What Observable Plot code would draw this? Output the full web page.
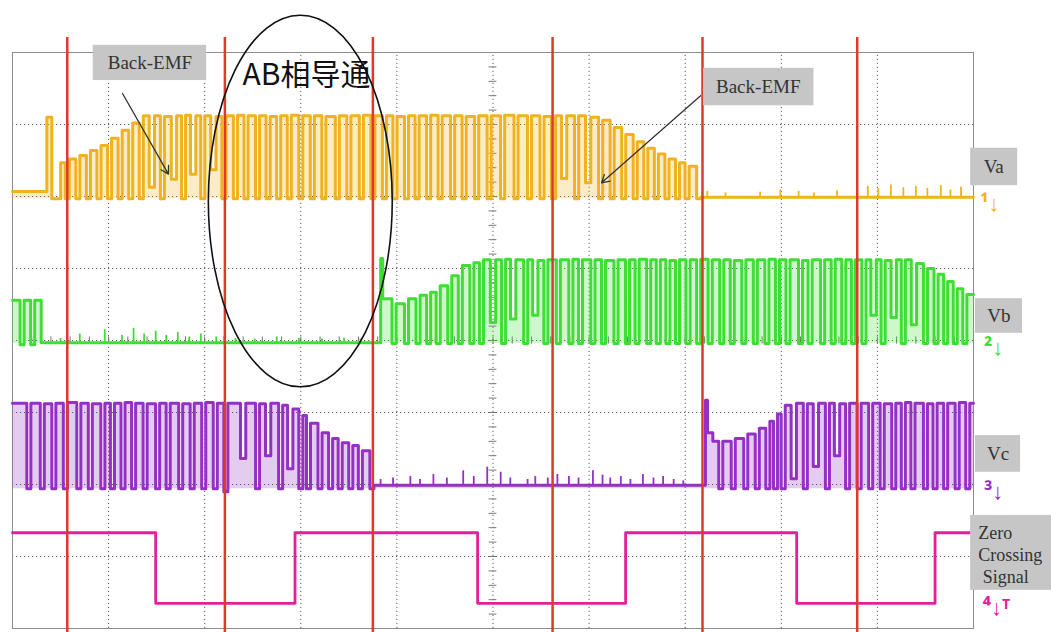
<!DOCTYPE html>
<html>
<head>
<meta charset="utf-8">
<script src="https://cdn.jsdelivr.net/npm/d3@7"></script>
<script src="https://cdn.jsdelivr.net/npm/@observablehq/plot@0.6"></script>
<style>
html,body{margin:0;padding:0;background:#fff;}
#chart svg{display:block;}
</style>
</head>
<body>
<div id="chart"></div>
<script>
// Time axis: 10 divisions (100 units each); voltage axis: 8 divisions.
const gridT = [100, 200, 300, 400, 500, 600, 700, 800, 900];
const gridV = [1, 2, 3, 4, 5, 6, 7];

// Commutation instants (red markers)
const commT = [57, 221, 375, 562, 718, 879];

// Zero crossing signal (step levels)
const zcsT = [0, 149, 294, 484, 638, 816, 960, 1000];
const zcsV = [1.33, 0.35, 1.33, 0.35, 1.33, 0.35, 1.33, 1.33];

// Phase A: PWM events (time, level during gap, level after)
const vaStart = 6.07, vaLow = 5.97, vaFlat = 5.99;
const vaT = [33, 43, 48,
  57, 68, 79, 90, 101, 112, 123,
  134, 145, 156, 168, 178, 188, 198, 209, 220,
  232, 243, 255, 266, 277, 288, 300, 312, 324,
  338, 350, 363, 375, 387, 398, 410, 421, 433,
  445, 458, 470, 483, 496, 510, 524, 538, 551,
  563, 574, 587, 599,
  612, 624, 636, 648, 659, 670, 681, 692, 702, 714];
const vaBot = [6.07, 5.97, 5.97,
  5.97, 5.97, 5.97, 5.97, 5.97, 5.97, 5.97,
  5.97, 6.13, 5.97, 6.24, 5.97, 6.31, 5.97, 6.37, 5.97,
  5.97, 5.97, 5.97, 5.97, 5.97, 5.97, 5.97, 5.97, 5.97,
  5.97, 5.97, 5.97, 5.97, 5.97, 5.97, 5.97, 5.97, 5.97,
  5.97, 5.97, 5.97, 5.97, 5.97, 5.97, 5.97, 5.97, 5.97,
  5.97, 6.25, 5.97, 6.19,
  5.97, 5.97, 5.97, 5.97, 5.97, 5.97, 5.97, 5.97, 5.97, 5.97];
const vaTop = [7.10, 5.97, 6.47,
  6.52, 6.57, 6.64, 6.71, 6.81, 6.92, 7.02,
  7.12, 7.12, 7.11, 7.12, 7.13, 7.12, 7.12, 7.11, 7.12,
  7.13, 7.12, 7.12, 7.11, 7.12, 7.13, 7.12, 7.12, 7.11,
  7.12, 7.12, 7.13, 7.12, 7.12, 7.11, 7.12, 7.12, 7.13,
  7.12, 7.12, 7.11, 7.12, 7.12, 7.13, 7.12, 7.12, 7.11,
  7.12, 7.12, 7.12, 7.10,
  7.06, 6.96, 6.86, 6.76, 6.67, 6.59, 6.52, 6.47, 6.42, 5.99];
const vaNoiseT = [723, 742, 778, 799, 818, 834, 858, 890, 901, 914, 927, 940, 952, 966, 976, 987];
const vaNoiseH = [0.08, 0.06, 0.07, 0.10, 0.08, 0.06, 0.09, 0.15, 0.12, 0.17, 0.13, 0.15, 0.12, 0.16, 0.10, 0.14];

// Phase B
const vbStart = 4.56, vbLow = 3.96, vbFlat = 3.97;
const vbT = [10, 21, 32,
  381, 388,
  397, 410, 422, 433, 443, 455, 466, 478, 488,
  500, 511, 521, 534, 544, 555,
  568, 581, 591, 604, 615, 628, 640, 650, 662, 672,
  682, 692, 703, 714, 726, 738, 749, 761, 773, 785,
  796, 807, 820, 830, 843, 854, 865, 875, 886,
  896, 906, 917, 927, 938,
  950, 961, 971, 981, 991];
const vbBot = [3.94, 3.94, 3.97,
  3.97, 4.58,
  3.96, 3.96, 3.96, 3.96, 3.96, 3.96, 3.96, 3.96, 3.96,
  4.25, 3.96, 4.30, 3.96, 4.35, 3.96,
  3.96, 3.96, 3.96, 3.96, 3.96, 3.96, 3.96, 3.96, 3.96, 3.96,
  3.96, 3.96, 3.96, 3.96, 3.96, 3.96, 3.96, 3.96, 3.96, 3.96,
  3.96, 3.96, 3.96, 3.96, 3.96, 3.96, 3.96, 3.96, 3.96,
  4.35, 3.96, 4.32, 3.96, 4.22,
  3.96, 3.96, 3.96, 3.96, 3.96];
const vbTop = [4.56, 4.56, 3.97,
  5.14, 4.58,
  4.51, 4.58, 4.63, 4.67, 4.76, 4.90, 5.04, 5.08, 5.12,
  5.12, 5.13, 5.12, 5.12, 5.11, 5.12,
  5.12, 5.13, 5.12, 5.12, 5.11, 5.12, 5.12, 5.13, 5.12, 5.12,
  5.11, 5.12, 5.12, 5.13, 5.12, 5.12, 5.11, 5.12, 5.12, 5.13,
  5.12, 5.12, 5.11, 5.12, 5.12, 5.13, 5.12, 5.12, 5.12,
  5.12, 5.11, 5.12, 5.12, 5.07,
  5.00, 4.92, 4.82, 4.72, 4.64];
const vbNoiseT = [50, 70, 96, 114, 126, 137, 149, 160, 172, 184, 196, 212, 232, 252, 275, 298, 322, 345, 362];
const vbNoiseH = [0.06, 0.12, 0.18, 0.10, 0.20, 0.12, 0.16, 0.10, 0.14, 0.08, 0.12, 0.08, 0.06, 0.05, 0.08, 0.06, 0.05, 0.06, 0.05];

// Phase C
const vcStart = 3.13, vcLow = 1.94, vcFlat = 1.99;
const vcT = [17, 31, 43, 55, 69, 81, 94, 104, 115, 126, 138, 151, 162, 175, 187, 199, 211, 222,
  240, 255, 266, 279, 289, 300,
  308, 320, 331, 341, 352, 362, 374,
  719, 726,
  737, 750, 763, 775, 786, 794, 802,
  813, 825, 836, 848, 858, 869, 881,
  893, 905, 917, 927, 937, 950, 960, 971, 983, 994];
const vcBot = [1.94, 1.94, 1.94, 1.94, 1.94, 1.94, 1.94, 1.94, 1.94, 1.94, 1.94, 1.94, 1.94, 1.94, 1.94, 1.94, 1.94, 1.90,
  2.36, 1.94, 2.40, 1.94, 2.22, 1.94,
  1.94, 1.94, 1.94, 1.94, 1.94, 1.94, 1.94,
  1.99, 2.72,
  1.94, 1.94, 1.94, 1.94, 1.94, 1.94, 1.94,
  2.08, 1.94, 2.25, 1.94, 2.40, 1.94, 1.94,
  1.94, 1.94, 1.94, 1.94, 1.94, 1.94, 1.94, 1.94, 1.94, 1.94];
const vcTop = [3.13, 3.12, 3.13, 3.14, 3.13, 3.12, 3.13, 3.13, 3.14, 3.13, 3.12, 3.13, 3.13, 3.12, 3.13, 3.14, 3.13, 3.13,
  3.13, 3.12, 3.13, 3.10, 3.05, 2.96,
  2.85, 2.72, 2.64, 2.58, 2.54, 2.47, 1.99,
  3.17, 2.60,
  2.60, 2.64, 2.70, 2.78, 2.88, 2.98, 3.10,
  3.13, 3.12, 3.13, 3.13, 3.12, 3.13, 3.13,
  3.13, 3.12, 3.13, 3.14, 3.13, 3.12, 3.13, 3.13, 3.14, 3.13];
const vcNoiseT = [383, 396, 414, 424, 438, 452, 469, 480, 494, 508, 518, 536, 544, 557, 567, 579, 589, 604, 614, 622, 633, 643, 656, 667, 677, 688, 698];
const vcNoiseH = [0.08, 0.10, 0.12, 0.08, 0.15, 0.10, 0.20, 0.12, 0.25, 0.18, 0.10, 0.08, 0.12, 0.10, 0.15, 0.12, 0.10, 0.20, 0.14, 0.10, 0.12, 0.08, 0.15, 0.10, 0.12, 0.08, 0.06];

const colA = "#f0b21e", colB = "#3ede34", colC = "#9530c4", colZ = "#e41f9b", colRed = "#e0382c";

function steps(start, T, bot, top, low) {
  const pts = [{t: 0, v: start}];
  T.forEach((t, i) => {
    const w = bot[i] > low + 0.08 ? 5.5 : 4.2;
    pts.push({t: t - w / 2, v: bot[i]}, {t: t + w / 2, v: top[i]});
  });
  pts.push({t: 1000, v: top[top.length - 1]});
  return pts;
}
const va = steps(vaStart, vaT, vaBot, vaTop, vaLow);
const vb = steps(vbStart, vbT, vbBot, vbTop, vbLow);
const vc = steps(vcStart, vcT, vcBot, vcTop, vcLow);
const zcs = zcsT.map((t, i) => ({t, v: zcsV[i]}));

function traceMarks(pts, low, flat, noiseT, noiseH, color) {
  return [
    Plot.areaY(pts, {x: "t", y1: () => low, y2: "v", curve: "step-after", fill: color, fillOpacity: 0.25}),
    Plot.ruleX(noiseT, {x: d => d, y1: () => flat, y2: (d, i) => flat + noiseH[i], stroke: color, strokeWidth: 1.8}),
    Plot.line(pts, {x: "t", y: "v", curve: "step-after", stroke: color, strokeWidth: 3})
  ];
}

const minorV = d3.range(0.2, 8, 0.2);
const minorT = d3.range(20, 1000, 20);
const serif = "'Liberation Serif', 'Times New Roman', serif";

const plot = Plot.plot({
  width: 1051,
  height: 632,
  marginLeft: 12,
  marginRight: 78,
  marginTop: 52,
  marginBottom: 4,
  style: {background: "white", overflow: "visible"},
  x: {domain: [0, 1000], axis: null},
  y: {domain: [0, 8], axis: null},
  marks: [
    Plot.ruleX(gridT, {y1: 0, y2: 8, stroke: "#5e5e5e", strokeWidth: 1, strokeDasharray: "1.2,2.8"}),
    Plot.ruleY(gridV, {x1: 0, x2: 1000, stroke: "#5e5e5e", strokeWidth: 1, strokeDasharray: "1.2,2.8"}),
    Plot.ruleY(minorV, {x1: 496, x2: 504, stroke: "#777", strokeWidth: 1}),
    Plot.ruleX(minorT, {y1: 3.95, y2: 4.05, stroke: "#777", strokeWidth: 1}),
    Plot.frame({stroke: "#8c8c8c", strokeWidth: 1}),
    ...traceMarks(va, vaLow, vaFlat, vaNoiseT, vaNoiseH, colA),
    ...traceMarks(vb, vbLow, vbFlat, vbNoiseT, vbNoiseH, colB),
    ...traceMarks(vc, vcLow, vcFlat, vcNoiseT, vcNoiseH, colC),
    Plot.line(zcs, {x: "t", y: "v", curve: "step-after", stroke: colZ, strokeWidth: 2.8}),
    Plot.ruleX(commT, {y1: -0.1, y2: 8.21, stroke: colRed, strokeWidth: 2.5}),
    // annotations
    Plot.rect([0], {x1: 84, x2: 202, y1: 7.61, y2: 8.10, fill: "#c6c6c6"}),
    Plot.text(["Back-EMF"], {x: 143, y: 7.85, text: d => d, fontFamily: serif, fontSize: 19, fill: "#333"}),
    Plot.arrow([0], {x1: 114.5, y1: 7.43, x2: 162.3, y2: 6.31, stroke: "#333", strokeWidth: 1.3, headLength: 10}),
    Plot.rect([0], {x1: 719, x2: 834, y1: 7.26, y2: 7.78, fill: "#c6c6c6"}),
    Plot.text(["Back-EMF"], {x: 776, y: 7.52, text: d => d, fontFamily: serif, fontSize: 19, fill: "#333"}),
    Plot.arrow([0], {x1: 716, y1: 7.40, x2: 613, y2: 6.19, stroke: "#333", strokeWidth: 1.3, headLength: 10}),
    Plot.text(["AB相导通"], {x: 306, y: 7.68, text: d => d, fontFamily: "'Noto Sans CJK SC', sans-serif", fontSize: 30, fill: "#111"}),
    // channel labels
    Plot.rect([0], {x1: 997, x2: 1046, y1: 6.15, y2: 6.67, fill: "#c6c6c6"}),
    Plot.text(["Va"], {x: 1021, y: 6.41, text: d => d, fontFamily: serif, fontSize: 19, fill: "#333"}),
    Plot.rect([0], {x1: 1002, x2: 1051, y1: 4.10, y2: 4.58, fill: "#c6c6c6"}),
    Plot.text(["Vb"], {x: 1026.5, y: 4.34, text: d => d, fontFamily: serif, fontSize: 19, fill: "#333"}),
    Plot.rect([0], {x1: 1002, x2: 1049, y1: 2.17, y2: 2.68, fill: "#c6c6c6"}),
    Plot.text(["Vc"], {x: 1025.5, y: 2.43, text: d => d, fontFamily: serif, fontSize: 19, fill: "#333"}),
    Plot.rect([0], {x1: 997, x2: 1090, y1: 0.53, y2: 1.57, fill: "#c6c6c6"}),
    Plot.text(["Zero\nCrossing\n\u00a0Signal"], {x: 1005, y: 1.03, text: d => d, textAnchor: "start", lineHeight: 1.22, fontFamily: serif, fontSize: 18, fill: "#333"}),
    // ground markers
    Plot.text(["¹↓"], {x: 1017, y: 5.90, text: d => d, fontSize: 22, fill: colA, fontWeight: "bold"}),
    Plot.text(["²↓"], {x: 1021, y: 3.89, text: d => d, fontSize: 22, fill: colB, fontWeight: "bold"}),
    Plot.text(["³↓"], {x: 1021, y: 1.89, text: d => d, fontSize: 22, fill: colC, fontWeight: "bold"}),
    Plot.text(["⁴↓ᵀ"], {x: 1024, y: 0.28, text: d => d, fontSize: 22, fill: colZ, fontWeight: "bold"})
  ]
});

// Hand-drawn ellipse around the AB conduction interval
const sx = plot.scale("x"), sy = plot.scale("y");
const mapX = v => sx.range[0] + (v - sx.domain[0]) / (sx.domain[1] - sx.domain[0]) * (sx.range[1] - sx.range[0]);
const mapY = v => sy.range[0] + (v - sy.domain[0]) / (sy.domain[1] - sy.domain[0]) * (sy.range[1] - sy.range[0]);
const ell = {t: 300, v: 5.93, rt: 95.7, rv: 2.58};
d3.select(plot).append("ellipse")
  .attr("cx", mapX(ell.t)).attr("cy", mapY(ell.v))
  .attr("rx", Math.abs(mapX(ell.t + ell.rt) - mapX(ell.t)))
  .attr("ry", Math.abs(mapY(ell.v + ell.rv) - mapY(ell.v)))
  .attr("fill", "none").attr("stroke", "#111").attr("stroke-width", 1.6);

document.getElementById("chart").appendChild(plot);
</script>
</body>
</html>
